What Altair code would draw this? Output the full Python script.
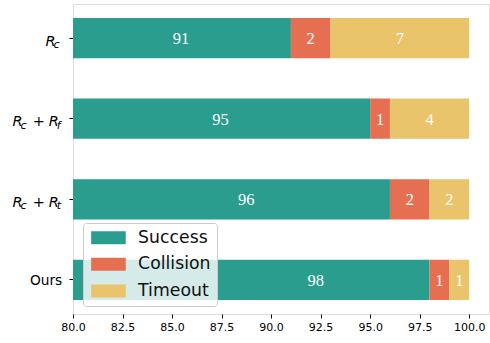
import altair as alt
import pandas as pd

# ---- data ----
categories = ["R_c", "R_c+R_f", "R_c+R_t", "Ours"]
series = ["Success", "Collision", "Timeout"]
success = [91, 95, 96, 98]
collision = [2, 1, 2, 1]
timeout = [7, 4, 2, 1]
# x position of the "Success" value label
success_label_x = [85.45, 87.45, 88.75, 92.25]
colors = ["#2a9d8f", "#e76f51", "#e9c46a"]
x_ticks = [80.0, 82.5, 85.0, 87.5, 90.0, 92.5, 95.0, 97.5, 100.0]

# ---- build long table ----
rows = []
for i, cat in enumerate(categories):
    start = 0
    for s, vals in zip(series, [success, collision, timeout]):
        v = vals[i]
        mid = success_label_x[i] if s == "Success" else start + v / 2
        rows.append({"cat": cat, "series": s, "value": v, "start": start,
                     "end": start + v, "mid": mid, "order": series.index(s)})
        start += v
df = pd.DataFrame(rows)

# y-axis label pieces (math-style labels with subscripts)
label_pieces = {
    "R_c": [("R", "main", -27.5), ("c", "sub", -19.6)],
    "R_c+R_f": [("R", "main", -60.5), ("c", "sub", -52.5), ("+", "op", -40.3),
                ("R", "main", -24.3), ("f", "sub", -16.3)],
    "R_c+R_t": [("R", "main", -60.5), ("c", "sub", -52.5), ("+", "op", -40.3),
                ("R", "main", -24.3), ("t", "sub", -16.3)],
    "Ours": [("Ours", "plain", -43.0)],
}
lab_rows = []
for cat in categories:
    for txt, kind, px in label_pieces[cat]:
        lab_rows.append({"cat": cat, "txt": txt, "kind": kind, "px": px})
lab = pd.DataFrame(lab_rows)

W, H = 416, 310
XMIN, XMAX = 80, 101

xscale = alt.Scale(domain=[XMIN, XMAX], nice=False, zero=False)
yscale = alt.Scale(domain=categories, paddingInner=0.5, paddingOuter=0.175)
cscale = alt.Scale(domain=series, range=colors)

base = alt.Chart(df)

bars = base.mark_bar(clip=True).encode(
    x=alt.X("start:Q", scale=xscale,
            axis=alt.Axis(values=x_ticks, format=".1f", title=None, grid=False,
                          domain=False, tickSize=4, tickColor="black",
                          labelFontSize=11, labelFont="DejaVu Sans",
                          labelColor="black", labelPadding=3, labelFlush=False)),
    x2="end:Q",
    y=alt.Y("cat:N", scale=yscale,
            axis=alt.Axis(labels=False, title=None, domain=False, grid=False,
                          tickSize=4, tickColor="black")),
    color=alt.Color("series:N", scale=cscale,
                    legend=alt.Legend(
                        title=None, orient="none", legendX=10, legendY=219,
                        symbolType="M-2.66,-1L2.66,-1L2.66,1L-2.66,1Z",
                        symbolSize=169, symbolStrokeWidth=0, symbolOpacity=1,
                        symbolOffset=10.8,
                        labelFontSize=17.3, labelFont="DejaVu Sans",
                        labelColor="#111111", labelOffset=21,
                        padding=6, rowPadding=8.7,
                        fillColor="rgba(255,255,255,0.8)",
                        strokeColor="#cccccc", cornerRadius=3)),
    order=alt.Order("order:Q"),
)

texts = base.mark_text(
    font="Liberation Serif", fontSize=16.5, color="white",
    align="center", baseline="alphabetic", dy=6
).encode(
    x=alt.X("mid:Q", scale=xscale),
    y=alt.Y("cat:N", scale=yscale),
    text=alt.Text("value:Q"),
)

lab_base = alt.Chart(lab)
main_lab = lab_base.transform_filter("datum.kind == 'main'").mark_text(
    font="DejaVu Sans", fontStyle="italic", fontSize=14.5, color="black",
    align="left", baseline="alphabetic", dy=7.5
).encode(x=alt.X("px:Q", scale=None), y=alt.Y("cat:N", scale=yscale), text="txt:N")
sub_lab = lab_base.transform_filter("datum.kind == 'sub'").mark_text(
    font="DejaVu Sans", fontStyle="italic", fontSize=11, color="black",
    align="left", baseline="alphabetic", dy=10
).encode(x=alt.X("px:Q", scale=None), y=alt.Y("cat:N", scale=yscale), text="txt:N")
op_lab = lab_base.transform_filter("datum.kind == 'op'").mark_text(
    font="DejaVu Sans", fontSize=14.5, color="black",
    align="left", baseline="alphabetic", dy=7.5
).encode(x=alt.X("px:Q", scale=None), y=alt.Y("cat:N", scale=yscale), text="txt:N")
plain_lab = lab_base.transform_filter("datum.kind == 'plain'").mark_text(
    font="DejaVu Sans", fontSize=13.7, color="black",
    align="left", baseline="alphabetic", dy=5
).encode(x=alt.X("px:Q", scale=None), y=alt.Y("cat:N", scale=yscale), text="txt:N")

chart = alt.layer(bars, texts, main_lab, sub_lab, op_lab, plain_lab).properties(
    width=W, height=H,
    autosize=alt.AutoSizeParams(type="none"),
    padding={"left": 73, "top": 4, "right": 1, "bottom": 29},
).configure_view(
    stroke="black", strokeWidth=1
).configure(background="white")

chart.save("out.html", embed_options={"renderer": "svg", "actions": False})
